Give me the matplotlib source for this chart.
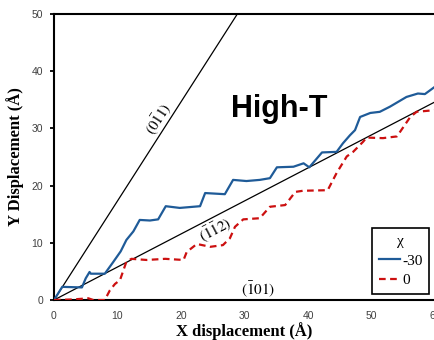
import numpy as np
import matplotlib
matplotlib.use('Agg')
import matplotlib.pyplot as plt

# chi = -30 trajectory (x, y in Angstrom)
x_m30 = [0, 1.3, 4.4, 5.0, 5.6, 5.8, 8.0, 9.3, 10.5, 11.4, 12.5, 13.5, 15.1, 16.4,
         17.6, 19.8, 23.0, 23.8, 26.9, 28.2, 30.3, 32.4, 34.0, 35.1, 37.7, 39.3,
         40.2, 42.2, 44.5, 45.5, 46.6, 47.4, 48.2, 49.8, 51.3, 52.9, 55.5, 57.3,
         58.4, 60.0]
y_m30 = [0, 2.3, 2.2, 3.8, 4.9, 4.6, 4.6, 6.6, 8.5, 10.5, 12.0, 14.0, 13.9, 14.1,
         16.4, 16.1, 16.4, 18.7, 18.5, 21.0, 20.8, 21.0, 21.3, 23.2, 23.3, 23.9,
         23.2, 25.8, 25.9, 27.4, 28.8, 29.7, 32.0, 32.7, 32.9, 33.8, 35.5, 36.1,
         36.0, 37.3]

# chi = 0 trajectory
x_0 = [0, 3.0, 5.4, 6.2, 8.0, 8.8, 9.6, 10.4, 11.4, 12.2, 14.6, 17.5, 20.4, 20.9,
       22.5, 24.6, 26.6, 27.7, 28.5, 29.8, 32.4, 34.0, 36.4, 38.0, 39.2, 43.1,
       44.5, 46.1, 47.1, 48.7, 49.2, 51.8, 54.0, 56.1, 57.1, 60.0]
y_0 = [0, 0.1, 0.3, 0.0, 0.0, 1.7, 2.8, 3.5, 6.7, 7.2, 7.0, 7.2, 7.0, 8.4,
       9.8, 9.3, 9.6, 10.8, 12.8, 14.1, 14.3, 16.3, 16.6, 18.9, 19.1, 19.2,
       22.2, 25.1, 25.9, 27.7, 28.4, 28.3, 28.6, 32.0, 32.9, 33.2]

# crystal directions: slope in the x-y plane
dir_labels = [r'$(0\bar{1}1)$', r'$(\bar{1}\bar{1}2)$', r'$(\bar{1}01)$']
dir_slopes = [np.sqrt(3), 1 / np.sqrt(3), 0.0]

fig = plt.figure(figsize=(4.34, 3.40), dpi=100)
ax = fig.add_axes([0.1244, 0.1176, 0.878, 0.8412])

xs = np.array([0, 60])
for s in dir_slopes[:2]:
    ax.plot(xs, s * xs, color='black', lw=0.9, zorder=2)

ax.plot(x_m30, y_m30, color='#1f5b98', lw=1.6, label='-30', zorder=3)
ax.plot(x_0, y_0, color='#cc1010', lw=1.6, ls=(0, (3, 2)), label='0', zorder=3)

lab_kw = dict(fontsize=11, math_fontfamily='stix', ha='center', va='center')
ax.text(16.6, 31.7, dir_labels[0], rotation=57, **lab_kw)
ax.text(25.5, 12.2, dir_labels[1], rotation=27.5, **lab_kw)
ax.text(32.2, 1.7, dir_labels[2], rotation=0, **lab_kw)

ax.text(0.465, 0.641, 'High-T', transform=ax.transAxes, fontsize=22,
        fontweight='bold', family='Liberation Sans', va='baseline')

ax.set_xlim(0, 60)
ax.set_ylim(0, 50)
ax.set_xticks(range(0, 61, 10))
ax.set_yticks(range(0, 51, 10))
for lab in ax.get_xticklabels() + ax.get_yticklabels():
    lab.set_family('Liberation Sans')
ax.tick_params(axis='x', length=0, pad=8, labelsize=7.5, labelcolor='#404040')
ax.tick_params(axis='y', length=3, width=1.3, pad=5, labelsize=7.5,
               labelcolor='#404040')
for sp in ax.spines.values():
    sp.set_linewidth(1.5)
ax.spines['right'].set_visible(False)

ax.set_xlabel('X displacement (Å)', family='Liberation Serif', fontweight='bold',
              fontsize=12, labelpad=1)
ax.set_ylabel('Y Displacement (Å)', family='Liberation Serif', fontweight='bold',
              fontsize=12, labelpad=5)

leg = ax.legend(title='χ', loc='upper left', bbox_to_anchor=(0.835, 0.252),
                borderaxespad=0,
                prop={'family': 'Liberation Serif', 'size': 11},
                title_fontproperties={'family': 'Liberation Serif', 'size': 11},
                handlelength=1.4, handletextpad=0.1, borderpad=0.45,
                labelspacing=0.4, fancybox=False, edgecolor='black', framealpha=1)
leg.get_frame().set_linewidth(1.2)

fig.savefig('out.png', dpi=100)
